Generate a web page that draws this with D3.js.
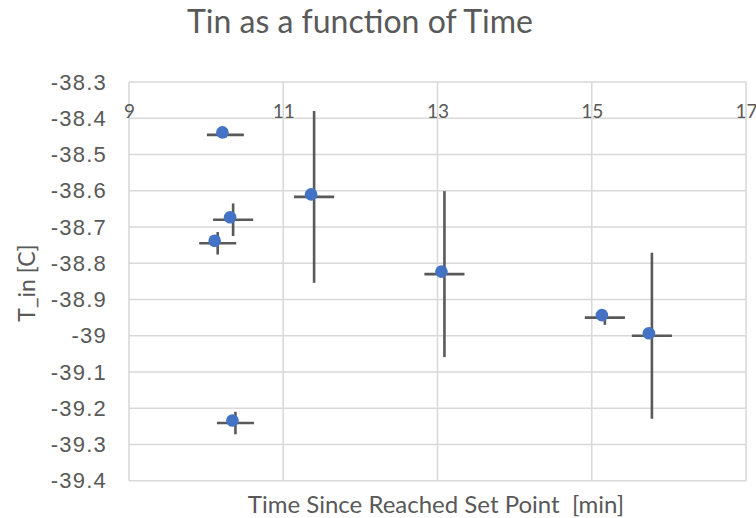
<!DOCTYPE html>
<html>
<head>
<meta charset="utf-8">
<script src="https://cdn.jsdelivr.net/npm/d3@7"></script>
<style>
	body { margin: 0; background: #fff; }
	svg text { fill: #595959; }
</style>
</head>
<body>
<div id="chart"></div>
<script>
// data
var timeMin = [10.25, 11.40, 10.35, 10.15, 10.38, 13.09, 15.17, 15.78];
var tinC    = [-38.446, -38.617, -38.680, -38.745, -39.241, -38.830, -38.950, -39.000];
var timeErr = [0.24, 0.26, 0.26, 0.24, 0.24, 0.26, 0.26, 0.26];
var tinErr  = [0.008, 0.237, 0.045, 0.031, 0.031, 0.229, 0.02, 0.229];

var xTicks = [9, 11, 13, 15, 17];
var yTicks = [-38.3, -38.4, -38.5, -38.6, -38.7, -38.8, -38.9, -39, -39.1, -39.2, -39.3, -39.4];

var titleText = "Tin as a function of Time",
	xTitle = "Time Since Reached Set Point  [min]",
	yTitle = "T_in [C]";

var W = 756, H = 518,
	margin = {top: 82, right: 10, bottom: 37.3, left: 129},
	width = W - margin.left - margin.right,
	height = H - margin.top - margin.bottom;

var data = timeMin.map(function (t, i) {
	return {x: t, y: tinC[i], ex: timeErr[i], ey: tinErr[i]};
});

var svg = d3.select("#chart").append("svg")
	.attr("width", W)
	.attr("height", H);

var g = svg.append("g")
	.attr("transform", "translate(" + margin.left + "," + margin.top + ")");

var xScale = d3.scaleLinear().domain([9, 17]).range([0, width]),
	yScale = d3.scaleLinear().domain([-38.3, -39.4]).range([0, height]);

// gridlines
g.append("g").selectAll("line")
	.data(yTicks).enter()
	.append("line")
	.attr("x1", 0).attr("x2", width)
	.attr("y1", function (d) { return yScale(d); })
	.attr("y2", function (d) { return yScale(d); })
	.attr("stroke", "#d9d9d9")
	.attr("stroke-width", 1.6);

g.append("g").selectAll("line")
	.data(xTicks).enter()
	.append("line")
	.attr("y1", 0).attr("y2", height)
	.attr("x1", function (d) { return xScale(d); })
	.attr("x2", function (d) { return xScale(d); })
	.attr("stroke", "#d9d9d9")
	.attr("stroke-width", 1.6);

// axes (labels only)
var fmt = function (d) { return String(+d.toFixed(1)); };

var xAxis = g.append("g")
	.call(d3.axisBottom(xScale).tickValues(xTicks).tickFormat(fmt).tickSize(0).tickPadding(22.5));
xAxis.select(".domain").remove();
xAxis.selectAll("text")
	.attr("font-family", "Lato, 'Open Sans', sans-serif")
	.attr("font-size", 19)
	.style("fill", "#595959");

var yAxis = g.append("g")
	.call(d3.axisLeft(yScale).tickValues(yTicks).tickFormat(fmt).tickSize(0).tickPadding(22));
yAxis.select(".domain").remove();
yAxis.selectAll("text")
	.attr("font-family", "'Liberation Sans', Arial, sans-serif")
	.attr("font-size", 22)
	.attr("letter-spacing", 1.2)
	.style("fill", "#595959");

// error bars
var bars = g.append("g").attr("stroke", "#595959").attr("stroke-width", 2.6);

bars.selectAll(".xerr")
	.data(data).enter()
	.append("line")
	.attr("class", "xerr")
	.attr("x1", function (d) { return xScale(d.x - d.ex); })
	.attr("x2", function (d) { return xScale(d.x + d.ex); })
	.attr("y1", function (d) { return yScale(d.y); })
	.attr("y2", function (d) { return yScale(d.y); });

bars.selectAll(".yerr")
	.data(data).enter()
	.append("line")
	.attr("class", "yerr")
	.attr("x1", function (d) { return xScale(d.x); })
	.attr("x2", function (d) { return xScale(d.x); })
	.attr("y1", function (d) { return yScale(d.y - d.ey); })
	.attr("y2", function (d) { return yScale(d.y + d.ey); });

// markers (drawn slightly up-left of the bar crossing, as in the original)
g.append("g")
	.attr("transform", "translate(-3,-2.5)")
	.selectAll("circle")
	.data(data).enter()
	.append("circle")
	.attr("cx", function (d) { return xScale(d.x); })
	.attr("cy", function (d) { return yScale(d.y); })
	.attr("r", 6.3)
	.attr("fill", "#4472c4");

// titles
svg.append("text")
	.attr("x", 360).attr("y", 33)
	.attr("text-anchor", "middle")
	.attr("font-family", "Lato, 'Open Sans', sans-serif")
	.attr("font-size", 32)
	.text(titleText);

svg.append("text")
	.attr("x", 436).attr("y", 513)
	.attr("text-anchor", "middle")
	.attr("font-family", "Lato, 'Open Sans', sans-serif")
	.attr("font-size", 24)
	.attr("xml:space", "preserve")
	.style("white-space", "pre")
	.text(xTitle);

svg.append("text")
	.attr("transform", "translate(35,283) rotate(-90)")
	.attr("text-anchor", "middle")
	.attr("font-family", "Lato, 'Open Sans', sans-serif")
	.attr("font-size", 23)
	.text(yTitle);
</script>
</body>
</html>
